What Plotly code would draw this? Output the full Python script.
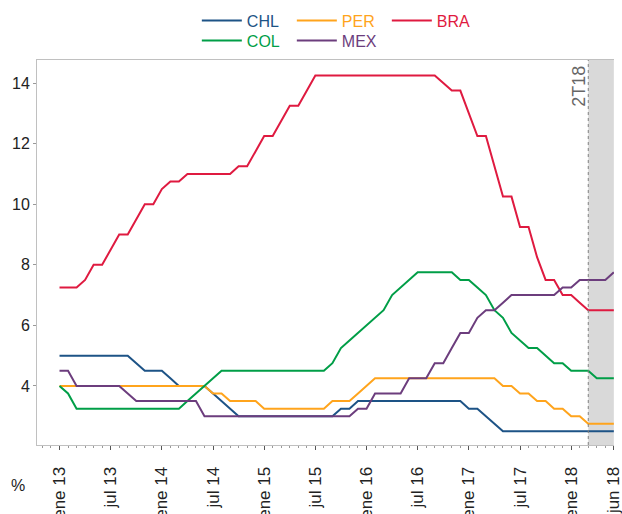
import plotly.graph_objects as go

# monthly policy rates, ene 2013 .. jun 2018 (66 months)
months = list(range(66))

chl = [5.0] * 9 + [4.75] + [4.5] * 3 + [4.25] + [4.0] * 4 + [3.75, 3.5, 3.25] \
    + [3.0] * 12 + [3.25] * 2 + [3.5] * 13 + [3.25] * 2 + [3.0, 2.75] + [2.5] * 14
col = [4.0, 3.75] + [3.25] * 13 + [3.5, 3.75, 4.0, 4.25] + [4.5] * 13 \
    + [4.75, 5.25, 5.5, 5.75, 6.0, 6.25, 6.5, 7.0, 7.25, 7.5] + [7.75] * 5 \
    + [7.5] * 2 + [7.25, 7.0, 6.5, 6.25, 5.75, 5.5] + [5.25] * 2 + [5.0] \
    + [4.75] * 2 + [4.5] * 3 + [4.25] * 3
per = [4.0] * 18 + [3.75] * 2 + [3.5] * 4 + [3.25] * 8 + [3.5] * 3 + [3.75, 4.0] \
    + [4.25] * 15 + [4.0] * 2 + [3.75] * 2 + [3.5] * 2 + [3.25] * 2 + [3.0] * 2 + [2.75] * 4
mex = [4.5] * 2 + [4.0] * 6 + [3.75] + [3.5] * 8 + [3.0] * 18 + [3.25] * 2 + [3.75] * 4 \
    + [4.25] * 3 + [4.75] * 2 + [5.25] + [5.75] * 2 + [6.25] + [6.5] * 2 + [6.75] \
    + [7.0] * 6 + [7.25] * 2 + [7.5] * 4 + [7.75]
bra = [7.25] * 3 + [7.5] + [8.0] * 2 + [8.5] + [9.0] * 2 + [9.5] + [10.0] * 2 + [10.5] \
    + [10.75] * 2 + [11.0] * 6 + [11.25] * 2 + [11.75] + [12.25] * 2 + [12.75] \
    + [13.25] * 2 + [13.75] + [14.25] * 15 + [14.0] + [13.75] * 2 + [13.0] \
    + [12.25] * 2 + [11.25] + [10.25] * 2 + [9.25] * 2 + [8.25] + [7.5] * 2 \
    + [7.0] * 2 + [6.75] + [6.5] * 4

tick_pos = [0, 6, 12, 18, 24, 30, 36, 42, 48, 54, 60, 65]
tick_text = ["ene 13", "jul 13", "ene 14", "jul 14", "ene 15", "jul 15",
             "ene 16", "jul 16", "ene 17", "jul 17", "ene 18", "jun 18"]

series = [
    ("CHL", chl, "#1d5386", "legend"),
    ("PER", per, "#ffa41c", "legend"),
    ("BRA", bra, "#df1a40", "legend"),
    ("COL", col, "#009e47", "legend2"),
    ("MEX", mex, "#6c3d7d", "legend2"),
]

fig = go.Figure()

# 2T18 shaded quarter
fig.add_shape(type="rect", xref="x", yref="paper", x0=62, x1=65, y0=0, y1=1,
              fillcolor="#d9d9d9", line=dict(width=0), layer="below")
fig.add_shape(type="line", xref="x", yref="paper", x0=62, x1=62, y0=0, y1=1,
              line=dict(color="#808080", width=1, dash="dot"))

for name, vals, color, lg in series:
    fig.add_trace(go.Scatter(
        x=months, y=vals, mode="lines",
        name=f'<span style="color:{color}">{name}</span>',
        line=dict(color=color, width=2),
        legend=lg,
    ))

legend_common = dict(
    orientation="h", xanchor="left", yanchor="middle",
    xref="paper", yref="container",
    font=dict(family="Liberation Sans, Arial", size=16),
    itemwidth=40, entrywidth=40, bgcolor="rgba(0,0,0,0)",
)

fig.update_layout(
    width=622, height=514,
    margin=dict(l=37, r=8, t=60, b=69, autoexpand=False),
    paper_bgcolor="white", plot_bgcolor="white",
    font=dict(family="Liberation Sans, Arial", size=16, color="#222222"),
    legend=dict(x=0.277, y=1 - 20.7 / 514, **legend_common),
    legend2=dict(x=0.277, y=1 - 40.5 / 514, **legend_common),
    xaxis=dict(
        range=[-2.64, 65.02], tickmode="array", tickvals=tick_pos, ticktext=tick_text,
        tickangle=-90, ticks="outside", ticklen=4, tickcolor="#555555",
        minor=dict(dtick=1, tick0=0, ticks="outside", ticklen=2, tickcolor="#999999"),
        showline=True, linecolor="#c0c0c0", linewidth=1, mirror=True,
        showgrid=False, zeroline=False, automargin=False, ticklabelstandoff=10,
        ticklabeloverflow="allow",
        tickfont=dict(size=17, color="#222222"),
    ),
    yaxis=dict(
        range=[2.05, 14.76], tickvals=[4, 6, 8, 10, 12, 14],
        ticks="outside", ticklen=3, tickcolor="#999999",
        showline=True, linecolor="#c0c0c0", linewidth=1,
        showgrid=False, zeroline=False, automargin=False,
        tickfont=dict(size=16, color="#222222"),
    ),
    annotations=[
        dict(text="2T18", textangle=-90, xref="x", yref="paper", x=62, y=1,
             xanchor="right", yanchor="top", yshift=-4, xshift=2, showarrow=False,
             font=dict(size=18, color="#666666")),
        dict(text="%", xref="paper", yref="paper", x=-0.033, y=-0.104,
             xanchor="center", yanchor="middle", showarrow=False,
             font=dict(size=16, color="#222222")),
    ],
)

# drop the browser's default page margin so the figure sits at the top-left corner
fig.write_html("out.html", config={"displayModeBar": False},
               post_script="document.body.style.margin='0';")
